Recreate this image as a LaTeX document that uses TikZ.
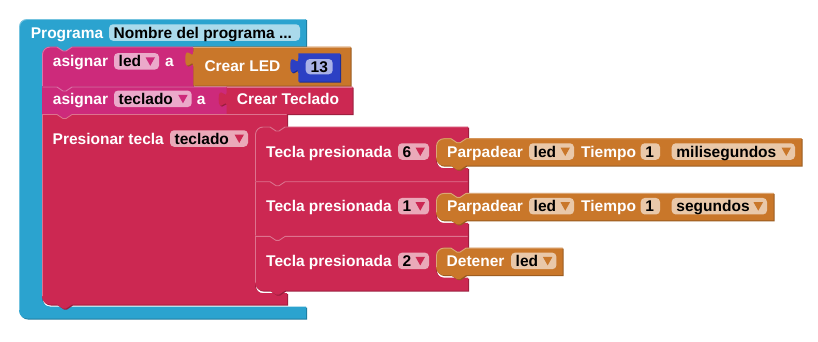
\documentclass[tikz,border=0pt]{standalone}
\usepackage{fontspec}
\setmainfont{Liberation Sans}

% block colours and their darker edge tones
\definecolor{cProg}{HTML}{2BA3CF}
\definecolor{cProgD}{HTML}{1E7A9C}
\definecolor{cMag}{HTML}{CD2A7B}
\definecolor{cMagD}{HTML}{9A1F5C}
\definecolor{cRed}{HTML}{CC2852}
\definecolor{cRedD}{HTML}{991E3D}
\definecolor{cOra}{HTML}{C9772A}
\definecolor{cOraD}{HTML}{985A1F}
\definecolor{cNum}{HTML}{2C40C4}
\definecolor{cNumD}{HTML}{1F2D8F}

\newcommand\blkfont{\fontsize{15.5pt}{18pt}\selectfont\bfseries}

% path pieces of the block outlines (y grows downwards)
\newcommand\notchR{-- ++(6,4) -- ++(3,0) -- ++(6,-4)}
\newcommand\notchL{-- ++(-6,4) -- ++(-3,0) -- ++(-6,-4)}
\newcommand\tabup{.. controls +(0,-10) and +(0,15.5) .. ++(-8,-7.5) .. controls +(0,-15.5) and +(0,10) .. ++(8,-7.5)}
\newcommand\cTL{.. controls +(0,-4.42) and +(-4.42,0) .. ++(8,-8)}
\newcommand\cBL{.. controls +(-4.42,0) and +(0,4.42) .. ++(-8,-8)}
\newcommand\cIT{.. controls +(-4.42,0) and +(0,-4.42) .. ++(-8,8)}
\newcommand\cIB{.. controls +(0,4.42) and +(-4.42,0) .. ++(8,8)}

% a block: dark edge copy, then the body
\newcommand\blockfill[3]{\fill[#2,shift={(1,1)}] #3; \fill[#1] #3;}

% dropdown field: pill, text, arrow
\newcommand\ddfield[6]{%
  \fill[pill] (#1,#3-8.25) rectangle (#2,#3+8.25);
  \node[fld] (#6) at (#1+4.5,#3+5.5) {#4};
  \fill[#5] (#2-4,#3-4) -- ++(-9.5,0) -- ++(4.75,8.5) -- cycle;}
% plain field: pill and text
\newcommand\txfield[5]{%
  \fill[pill] (#1,#3-8.25) rectangle (#2,#3+8.25);
  \node[fld] (#5) at (#1+4.5,#3+5.5) {#4};}

\begin{document}
\begin{tikzpicture}[x=1pt,y=-1pt,
  lbl/.style={font=\blkfont,text=white,inner sep=0pt,anchor=base west},
  fld/.style={font=\blkfont,text=black,inner sep=0pt,anchor=base west},
  pill/.style={fill=white,fill opacity=0.6,rounded corners=4pt},
  hl/.style={draw=white,draw opacity=0.35,line width=0.9pt}]
\useasboundingbox (0,0) rectangle (818,341);

% ---- Programa (outer C block)
\blockfill{cProg}{cProgD}{(19,27) \cTL -- (306,19) -- (306,46.5) -- (72,46.5) \notchL -- (50,46.5) \cIT
  -- (42,298.5) \cIB -- (306,306.5) -- (306,318.5) -- (27,318.5) \cBL -- cycle}
\draw[hl] (19.5,310) -- (19.5,27) .. controls +(0,-4.2) and +(-4.2,0) .. (27,19.5) -- (305.5,19.5);

% ---- asignar led a
\blockfill{cMag}{cMagD}{(42,54.5) \cTL -- (57,46.5) \notchR -- (193.3,46.5) -- (193.3,86.5)
  -- (72,86.5) \notchL -- (42,86.5) -- cycle}
\draw[hl] (42.5,86) -- (42.5,54.5) .. controls +(0,-4.2) and +(-4.2,0) .. (50,47) -- (57,47) \notchR -- (192.8,47);

% ---- Crear LED
\blockfill{cOra}{cOraD}{(193.3,46.5) -- (350.5,46.5) -- (350.5,85.5) -- (193.3,85.5) -- (193.3,66.5) \tabup -- cycle}
\draw[hl] (193.3,47) -- (350,47);

% ---- number 13
\blockfill{cNum}{cNumD}{(298.3,53.3) -- (340,53.3) -- (340,81.7) -- (298.3,81.7) -- (298.3,73.3) \tabup -- cycle}

% ---- asignar teclado a
\blockfill{cMag}{cMagD}{(42,86.5) -- (57,86.5) \notchR -- (227,86.5) -- (227,114) -- (72,114) \notchL -- (42,114) -- cycle}
\draw[hl] (42.5,87) -- (57,87) \notchR -- (226.5,87);

% ---- Crear Teclado
\blockfill{cRed}{cRedD}{(226.7,86.5) -- (352.7,86.5) -- (352.7,114) -- (226.7,114) -- (226.7,106.5) \tabup -- cycle}
\draw[hl] (226.7,87) -- (352.2,87);

% ---- Presionar tecla (C block)
\blockfill{cRed}{cRedD}{(42,114) -- (57,114) \notchR -- (287,114) -- (287,126.5) -- (285,126.5) \notchL
  -- (263,126.5) \cIT -- (255,285.1) \cIB -- (287,293.1) -- (287,304.5) -- (72,304.5) \notchL
  -- (50,304.5) \cBL -- cycle}
\draw[hl] (42.5,296) -- (42.5,114.5) -- (57,114.5) \notchR -- (286.5,114.5);

% ---- Tecla presionada 6
\blockfill{cRed}{cRedD}{(255,134.5) \cTL -- (270,126.5) \notchR -- (468,126.5) -- (468,138.2) -- (466,138.2) \notchL
  -- (444,138.2) \cIT -- (436,160.2) \cIB -- (468,168.2) -- (468,181.2) -- (285,181.2) \notchL -- (255,181.2) -- cycle}
\draw[hl] (255.5,181) -- (255.5,134.5) .. controls +(0,-4.2) and +(-4.2,0) .. (263,127) -- (270,127) \notchR -- (467.5,127);

% ---- Parpadear (milisegundos)
\blockfill{cOra}{cOraD}{(436,146.2) \cTL -- (451,138.2) \notchR -- (801.5,138.2) -- (801.5,165.7) -- (466,165.7) \notchL
  -- (444,165.7) \cBL -- cycle}
\draw[hl] (436.5,157.7) -- (436.5,146.2) .. controls +(0,-4.2) and +(-4.2,0) .. (444,138.7) -- (451,138.7) \notchR -- (801,138.7);

% ---- Tecla presionada 1
\blockfill{cRed}{cRedD}{(255,181.2) -- (270,181.2) \notchR -- (468,181.2) -- (468,192.9) -- (466,192.9) \notchL
  -- (444,192.9) \cIT -- (436,214.9) \cIB -- (468,222.9) -- (468,235.9) -- (285,235.9) \notchL -- (255,235.9) -- cycle}
\draw[hl] (255.5,235.7) -- (255.5,181.7) -- (270,181.7) \notchR -- (467.5,181.7);

% ---- Parpadear (segundos)
\blockfill{cOra}{cOraD}{(436,200.9) \cTL -- (451,192.9) \notchR -- (773.5,192.9) -- (773.5,220.4) -- (466,220.4) \notchL
  -- (444,220.4) \cBL -- cycle}
\draw[hl] (436.5,212.4) -- (436.5,200.9) .. controls +(0,-4.2) and +(-4.2,0) .. (444,193.4) -- (451,193.4) \notchR -- (773,193.4);

% ---- Tecla presionada 2
\blockfill{cRed}{cRedD}{(255,235.9) -- (270,235.9) \notchR -- (468,235.9) -- (468,247.6) -- (466,247.6) \notchL
  -- (444,247.6) \cIT -- (436,269.6) \cIB -- (468,277.6) -- (468,290.6) -- (285,290.6) \notchL -- (263,290.6) \cBL -- cycle}
\draw[hl] (255.5,282.6) -- (255.5,236.4) -- (270,236.4) \notchR -- (467.5,236.4);

% ---- Detener
\blockfill{cOra}{cOraD}{(436,255.6) \cTL -- (451,247.6) \notchR -- (562.5,247.6) -- (562.5,275.1) -- (466,275.1) \notchL
  -- (444,275.1) \cBL -- cycle}
\draw[hl] (436.5,267.1) -- (436.5,255.6) .. controls +(0,-4.2) and +(-4.2,0) .. (444,248.1) -- (451,248.1) \notchR -- (562,248.1);

% ---- labels and fields
\node[lbl] (tProg) at (30.7,38.3) {Programa};
\txfield{109}{300}{32.5}{Nombre del programa ...}{fName}

\node[lbl] (tAsig1) at (52.7,66.8) {asignar};
\ddfield{114}{159}{61.3}{led}{cMag}{fLed1}
\node[lbl] (tA1) at (165,66.8) {a};
\node[lbl] (tLed) at (204.3,71.3) {Crear LED};
\fill[pill] (305.7,59) rectangle (332.7,74.3);
\node[fld] (fNum) at (310.5,72.2) {13};

\node[lbl] (tAsig2) at (52.7,104.3) {asignar};
\ddfield{114}{191.7}{98.8}{teclado}{cMag}{fTec1}
\node[lbl] (tA2) at (196.7,104.3) {a};
\node[lbl] (tTec) at (236.7,104.5) {Crear Teclado};

\node[lbl] (tPres) at (52.5,144) {Presionar tecla};
\ddfield{170}{248}{138.5}{teclado}{cRed}{fTec2}

\node[lbl] (tKey1) at (266,157) {Tecla presionada};
\ddfield{398}{429}{151.5}{6}{cRed}{fKey1}
\node[lbl] (tBlink1) at (447,157) {Parpadear};
\ddfield{529}{574}{151.5}{led}{cOra}{fLed2}
\node[lbl] (tTime1) at (581,157) {Tiempo};
\txfield{640.7}{660}{151.5}{1}{fVal1}
\ddfield{671.7}{795}{151.5}{milisegundos}{cOra}{fUnit1}

\node[lbl] (tKey2) at (266,211.7) {Tecla presionada};
\ddfield{398}{429}{206.2}{1}{cRed}{fKey2}
\node[lbl] (tBlink2) at (447,211.7) {Parpadear};
\ddfield{529}{574}{206.2}{led}{cOra}{fLed3}
\node[lbl] (tTime2) at (581,211.7) {Tiempo};
\txfield{640.7}{660}{206.2}{1}{fVal2}
\ddfield{671.7}{767}{206.2}{segundos}{cOra}{fUnit2}

\node[lbl] (tKey3) at (266,266.4) {Tecla presionada};
\ddfield{398}{429}{260.9}{2}{cRed}{fKey3}
\node[lbl] (tStop) at (446.5,266.4) {Detener};
\ddfield{511}{556.4}{260.9}{led}{cOra}{fLed4}
\end{tikzpicture}
\end{document}
